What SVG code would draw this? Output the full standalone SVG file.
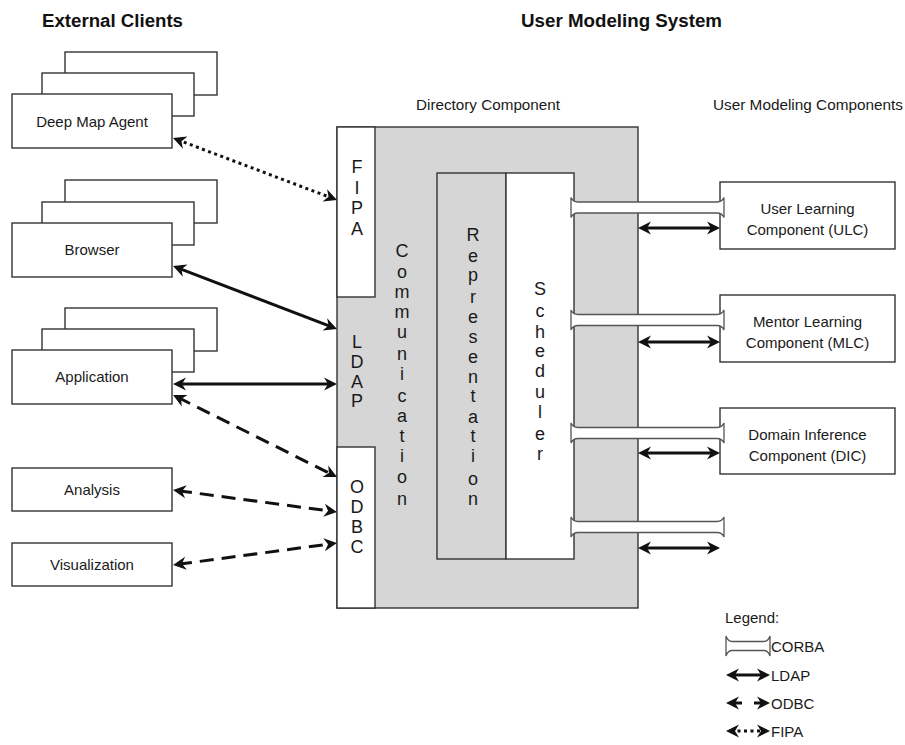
<svg xmlns="http://www.w3.org/2000/svg" width="905" height="745" viewBox="0 0 905 745">
<style>
.bx{fill:#fff;stroke:#333;stroke-width:1.4}
.gr{fill:#d6d6d6;stroke:#333;stroke-width:1.4}
.t{font-family:"Liberation Sans",Arial,sans-serif;font-size:15px;fill:#1a1a1a}
.tm{text-anchor:middle}
.h{font-family:"Liberation Sans",Arial,sans-serif;font-size:18px;font-weight:bold;fill:#111}
.v{font-family:"Liberation Sans",Arial,sans-serif;font-size:18px;fill:#1a1a1a;text-anchor:middle}
.ln{fill:none;stroke:#111;stroke-width:3;marker-start:url(#ah);marker-end:url(#ah)}
.da{stroke-dasharray:14 8}
.do{stroke-dasharray:3 3.5}
.tube{fill:#fff;stroke:#555;stroke-width:1.3}
</style>
<defs>
<marker id="ah" markerUnits="userSpaceOnUse" viewBox="-14 -8 16 16" markerWidth="16" markerHeight="16" refX="-5" refY="0" orient="auto-start-reverse">
<path d="M0,0 L-13,-6.5 L-9,0 L-13,6.5 Z" fill="#111"/>
</marker>
<path id="tube" d="M0,-10 Q2,-5.5 7,-5.5 H146 Q151,-5.5 153,-10 V10 Q151,5.5 146,5.5 H7 Q2,5.5 0,10 Z"/>
</defs>
<rect width="905" height="745" fill="#fff"/>

<text class="h" x="42" y="27" textLength="141" lengthAdjust="spacingAndGlyphs">External Clients</text>
<text class="h" x="521" y="27" textLength="201" lengthAdjust="spacingAndGlyphs">User Modeling System</text>
<text class="t" x="416" y="110" textLength="144" lengthAdjust="spacingAndGlyphs">Directory Component</text>
<text class="t" x="713" y="110" textLength="190" lengthAdjust="spacingAndGlyphs">User Modeling Components</text>

<g id="deep-map-agent">
<rect class="bx" x="65" y="52" width="152" height="43"/>
<rect class="bx" x="42" y="73" width="152" height="43"/>
<rect class="bx" x="12" y="94" width="160" height="54"/>
<text class="t tm" x="92" y="127">Deep Map Agent</text>
</g>
<g id="browser">
<rect class="bx" x="65" y="180" width="152" height="43"/>
<rect class="bx" x="42" y="202" width="152" height="43"/>
<rect class="bx" x="12" y="223" width="160" height="54"/>
<text class="t tm" x="92" y="255">Browser</text>
</g>
<g id="application">
<rect class="bx" x="65" y="308" width="152" height="43"/>
<rect class="bx" x="42" y="329" width="152" height="43"/>
<rect class="bx" x="12" y="350" width="160" height="54"/>
<text class="t tm" x="92" y="382">Application</text>
</g>
<g id="analysis">
<rect class="bx" x="12" y="468" width="160" height="43"/>
<text class="t tm" x="92" y="495">Analysis</text>
</g>
<g id="visualization">
<rect class="bx" x="12" y="543" width="160" height="43"/>
<text class="t tm" x="92" y="570">Visualization</text>
</g>

<g id="directory-component">
<rect class="gr" x="337" y="127" width="301" height="481"/>
<g id="fipa">
<rect class="bx" x="337" y="127" width="38" height="170"/>
<text class="v"><tspan x="357" y="173">F</tspan><tspan x="357" y="194">I</tspan><tspan x="357" y="214">P</tspan><tspan x="357" y="235">A</tspan></text>
</g>
<g id="ldap">
<text class="v"><tspan x="357" y="348">L</tspan><tspan x="357" y="368">D</tspan><tspan x="357" y="388">A</tspan><tspan x="357" y="407">P</tspan></text>
</g>
<g id="odbc">
<rect class="bx" x="337" y="447" width="38" height="161"/>
<text class="v"><tspan x="357" y="493">O</tspan><tspan x="357" y="513">D</tspan><tspan x="357" y="533">B</tspan><tspan x="357" y="553">C</tspan></text>
</g>
<g id="communication">
<text class="v"><tspan x="402" y="257">C</tspan><tspan x="402" y="278">o</tspan><tspan x="402" y="298">m</tspan><tspan x="402" y="318">m</tspan><tspan x="402" y="338">u</tspan><tspan x="402" y="360">n</tspan><tspan x="402" y="380">i</tspan><tspan x="402" y="402">c</tspan><tspan x="402" y="422">a</tspan><tspan x="402" y="442">t</tspan><tspan x="402" y="462">i</tspan><tspan x="402" y="483">o</tspan><tspan x="402" y="505">n</tspan></text>
</g>
<g id="representation">
<rect class="gr" x="437" y="173" width="69" height="386"/>
<text class="v"><tspan x="473" y="241">R</tspan><tspan x="473" y="262">e</tspan><tspan x="473" y="281">p</tspan><tspan x="473" y="303">r</tspan><tspan x="473" y="323">e</tspan><tspan x="473" y="343">s</tspan><tspan x="473" y="363">e</tspan><tspan x="473" y="383">n</tspan><tspan x="473" y="402">t</tspan><tspan x="473" y="423">a</tspan><tspan x="473" y="442">t</tspan><tspan x="473" y="462">i</tspan><tspan x="473" y="485">o</tspan><tspan x="473" y="505">n</tspan></text>
</g>
<g id="scheduler">
<rect class="bx" x="506" y="173" width="68" height="386"/>
<text class="v"><tspan x="540" y="295">S</tspan><tspan x="540" y="317">c</tspan><tspan x="540" y="338">h</tspan><tspan x="540" y="357">e</tspan><tspan x="540" y="377">d</tspan><tspan x="540" y="398">u</tspan><tspan x="540" y="418">l</tspan><tspan x="540" y="440">e</tspan><tspan x="540" y="460">r</tspan></text>
</g>
</g>

<g id="ulc">
<rect class="bx" x="720" y="182" width="175" height="67"/>
<text class="t tm" x="807.5" y="214">User Learning</text>
<text class="t tm" x="807.5" y="235">Component (ULC)</text>
</g>
<g id="mlc">
<rect class="bx" x="720" y="295" width="175" height="67"/>
<text class="t tm" x="807.5" y="327">Mentor Learning</text>
<text class="t tm" x="807.5" y="348">Component (MLC)</text>
</g>
<g id="dic">
<rect class="bx" x="720" y="408" width="175" height="66"/>
<text class="t tm" x="807.5" y="440">Domain Inference</text>
<text class="t tm" x="807.5" y="461">Component (DIC)</text>
</g>

<g id="connectors">
<line class="ln do" x1="177.7" y1="139.8" x2="332.3" y2="198.2"/>
<line class="ln" x1="177.7" y1="267.8" x2="332.3" y2="327.2"/>
<line class="ln" x1="178" y1="384" x2="332" y2="384"/>
<line class="ln da" x1="177.5" y1="397.2" x2="332.5" y2="474.8"/>
<line class="ln da" x1="178" y1="490.7" x2="332" y2="511.3"/>
<line class="ln da" x1="178" y1="564.3" x2="332" y2="543.7"/>
<use href="#tube" class="tube" transform="translate(571,207.5)"/>
<use href="#tube" class="tube" transform="translate(571,320)"/>
<use href="#tube" class="tube" transform="translate(571,433)"/>
<use href="#tube" class="tube" transform="translate(571,527)"/>
<line class="ln" x1="643" y1="228" x2="715" y2="228"/>
<line class="ln" x1="643" y1="342" x2="715" y2="342"/>
<line class="ln" x1="643" y1="453" x2="715" y2="453"/>
<line class="ln" x1="643" y1="548" x2="715" y2="548"/>
</g>

<g id="legend">
<text class="t" x="725" y="623">Legend:</text>
<path class="tube" d="M726,636 Q728,641.5 732,641.5 H764 Q768,641.5 770,636 V656 Q768,650.5 764,650.5 H732 Q728,650.5 726,656 Z"/>
<text class="t" x="771" y="652">CORBA</text>
<line class="ln" x1="731" y1="675" x2="765" y2="675"/>
<text class="t" x="771" y="681">LDAP</text>
<line class="ln" x1="731" y1="703" x2="742" y2="703" style="marker-end:none"/>
<line class="ln" x1="754" y1="703" x2="765" y2="703" style="marker-start:none"/>
<text class="t" x="771" y="709">ODBC</text>
<line class="ln do" x1="731" y1="731" x2="765" y2="731"/>
<text class="t" x="771" y="737">FIPA</text>
</g>
</svg>
